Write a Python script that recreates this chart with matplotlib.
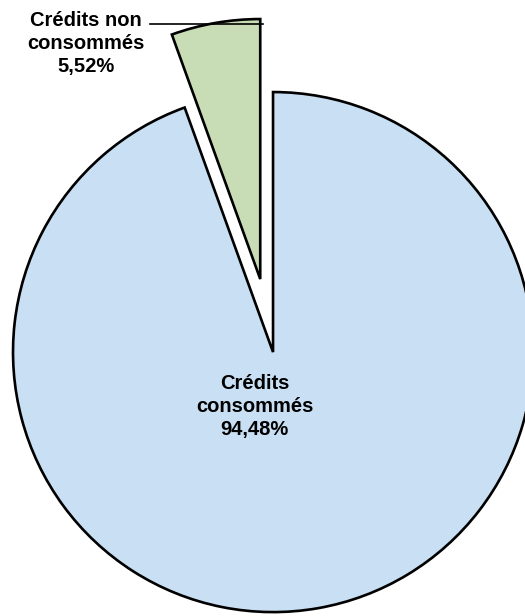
import matplotlib.pyplot as plt

# data
labels = ['Crédits non\nconsommés\n5,52%', 'Crédits\nconsommés\n94,48%']
values = [5.52, 94.48]
colors = ['#C8DDB6', '#C9DFF3']
explode = [0.285, 0.0]

plt.rcParams['font.family'] = ['Liberation Sans', 'DejaVu Sans']

fig = plt.figure(figsize=(5.25, 6.16), dpi=100)
ax = fig.add_axes([0, 0, 1, 1])

wedges, _ = ax.pie(values, explode=explode, colors=colors, startangle=90,
                   counterclock=True, radius=1.0,
                   wedgeprops=dict(edgecolor='black', linewidth=1.9,
                                   joinstyle='miter'))

# labels
ax.text(-0.72, 1.185, labels[0], ha='center', va='center', fontsize=14.5,
        fontweight='bold', linespacing=1.27)
ax.plot([-0.475, -0.04], [1.262, 1.262], color='black', lw=1.2)
ax.text(-0.07, -0.21, labels[1], ha='center', va='center', fontsize=14.5,
        fontweight='bold', linespacing=1.27)

ax.set_xlim(-1.05, 0.969)
ax.set_ylim(-1.015, 1.354)
ax.set_aspect('equal')
ax.axis('off')

plt.savefig('out.png', dpi=100)
